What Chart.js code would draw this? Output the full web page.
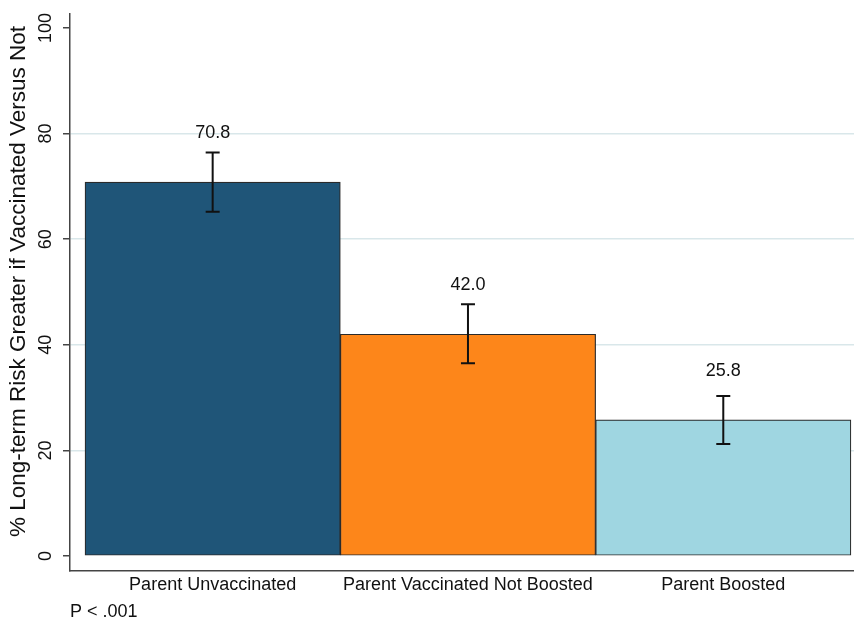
<!DOCTYPE html>
<html><head><meta charset="utf-8">
<script src="https://cdn.jsdelivr.net/npm/chart.js@4/dist/chart.umd.min.js"></script>
<style>html,body{margin:0;padding:0;background:#fff}#wrap{width:854px;height:623px;position:relative}</style>
</head><body><div id="wrap"><canvas id="c"></canvas></div>
<script>
const categories = ['Parent Unvaccinated', 'Parent Vaccinated Not Boosted', 'Parent Boosted'];
const values = [70.8, 42.0, 25.8];
const ciLow = [65.2, 36.5, 21.2];
const ciHigh = [76.4, 47.7, 30.3];
const valueLabels = ['70.8', '42.0', '25.8'];
const yTicks = [0, 20, 40, 60, 80, 100];
const xTickPositions = [0, 1, 2];
const yTitle = '% Long-term Risk Greater if Vaccinated Versus Not';
const note = 'P < .001';

const FAMILY = '"Liberation Sans", Arial, Helvetica, sans-serif';
Chart.defaults.font.family = FAMILY;
Chart.defaults.color = '#111';

const errPlugin = {
  id: 'errbars',
  afterDatasetsDraw(chart) {
    const {ctx, scales: {y}} = chart;
    const meta = chart.getDatasetMeta(0);
    meta.data.forEach((bar, i) => {
      const px = bar.x;
      const yl = y.getPixelForValue(ciLow[i]);
      const yh = y.getPixelForValue(ciHigh[i]);
      ctx.save();
      ctx.strokeStyle = '#111';
      ctx.lineWidth = 2;
      ctx.beginPath();
      ctx.moveTo(px, yh); ctx.lineTo(px, yl);
      ctx.moveTo(px - 7, yh); ctx.lineTo(px + 7, yh);
      ctx.moveTo(px - 7, yl); ctx.lineTo(px + 7, yl);
      ctx.stroke();
      ctx.font = '18px ' + FAMILY;
      ctx.fillStyle = '#111';
      ctx.textAlign = 'center';
      ctx.textBaseline = 'middle';
      ctx.fillText(valueLabels[i], px, bar.y - 49);
      ctx.restore();
    });
  },
  afterDraw(chart) {
    const {ctx, scales: {y}} = chart;
    ctx.save();
    ctx.translate(19, (y.top + y.bottom) / 2 - 11);
    ctx.rotate(-Math.PI / 2);
    ctx.font = '22.5px ' + FAMILY;
    ctx.fillStyle = '#111';
    ctx.textAlign = 'center';
    ctx.textBaseline = 'middle';
    ctx.fillText(yTitle, 0, 0);
    ctx.restore();
  }
};

new Chart(document.getElementById('c'), {
  type: 'bar',
  data: {
    datasets: [{
      data: values.map((v, i) => ({x: xTickPositions[i], y: v})),
      backgroundColor: ['#1f5578', '#fd861a', '#9fd6e1'],
      borderColor: '#2a2a2a',
      borderWidth: 1.2,
      borderSkipped: false,
      barPercentage: 1,
      categoryPercentage: 1
    }]
  },
  options: {
    responsive: true,
    maintainAspectRatio: false,
    animation: false,
    layout: {padding: {top: 14, left: 0, right: 0, bottom: 0}},
    plugins: {legend: {display: false}, tooltip: {enabled: false}},
    scales: {
      x: {
        type: 'linear',
        offset: false,
        min: -0.5588,
        max: 2.512,
        afterBuildTicks(s) { s.ticks = xTickPositions.map(v => ({value: v})); },
        afterFit(s) { s.height = 52; },
        grid: {display: true, offset: false, drawOnChartArea: false, drawTicks: false},
        border: {display: true, color: '#444', width: 1.5},
        ticks: {padding: 3, font: {size: 18}, color: '#111', autoSkip: false, maxRotation: 0, minRotation: 0,
          callback: (v) => categories[v]},
        title: {display: true, text: note, align: 'start', font: {size: 18}, color: '#111', padding: {top: 0, bottom: 0}}
      },
      y: {
        min: -2.84,
        max: 102.65,
        afterBuildTicks(s) { s.ticks = yTicks.map(v => ({value: v})); },
        afterFit(s) { s.width = 70; },
        grid: {
          color: (c) => (c.tick && c.tick.value > 0 && c.tick.value < 100) ? '#d9e7ea' : 'rgba(0,0,0,0)',
          lineWidth: 1.5, tickLength: 7, tickColor: '#444', tickWidth: 1.5, drawTicks: true
        },
        border: {display: true, color: '#444', width: 1.5},
        ticks: {minRotation: 90, maxRotation: 90, crossAlign: 'center', padding: 2, font: {size: 18}, color: '#111'},
        title: {display: false}
      }
    }
  },
  plugins: [errPlugin]
});
</script>
</body></html>
